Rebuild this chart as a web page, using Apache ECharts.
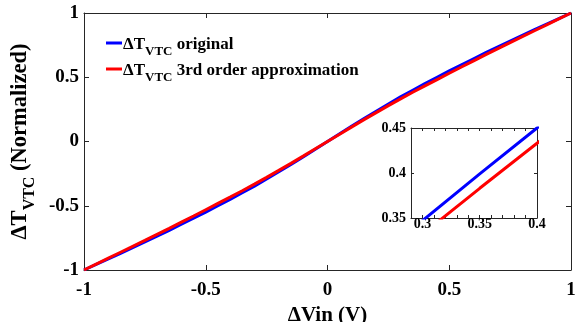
<!DOCTYPE html>
<html><head><meta charset="utf-8">
<script src="https://cdn.jsdelivr.net/npm/echarts@6/dist/echarts.min.js"></script>
<style>html,body{margin:0;padding:0;background:#fff}#c{width:575px;height:322px}</style>
</head><body><div id="c"></div>
<script>
// ---- data ----
const xVals = [-1,-0.95,-0.9,-0.85,-0.8,-0.75,-0.7,-0.65,-0.6,-0.55,-0.5,-0.45,-0.4,-0.35,-0.3,-0.25,-0.2,-0.15,-0.1,-0.05,0,
  0.05,0.1,0.15,0.2,0.25,0.3,0.35,0.4,0.45,0.5,0.55,0.6,0.65,0.7,0.75,0.8,0.85,0.9,0.95,1];
const blueOriginal = [-1,-0.957,-0.914,-0.87,-0.826,-0.782,-0.737,-0.691,-0.644,-0.597,-0.5495,-0.5,-0.45,-0.399,-0.347,-0.292,-0.236,-0.178,-0.12,-0.06,0,
  0.06,0.12,0.178,0.236,0.292,0.347,0.399,0.45,0.5,0.5495,0.597,0.644,0.691,0.737,0.782,0.826,0.87,0.914,0.957,1];
const redApprox = [-1,-0.954,-0.908,-0.862,-0.816,-0.77,-0.723,-0.676,-0.628,-0.58,-0.531,-0.482,-0.433,-0.383,-0.332,-0.279,-0.225,-0.17,-0.114,-0.057,0,
  0.057,0.114,0.17,0.225,0.279,0.332,0.383,0.433,0.482,0.531,0.58,0.628,0.676,0.723,0.77,0.816,0.862,0.908,0.954,1];
const mainTicks = [-1,-0.5,0,0.5,1];
const insetXTicks = [0.3,0.35,0.4];
const insetXMinor = [0.29,0.3,0.31,0.32,0.33,0.34,0.35,0.36,0.37,0.38,0.39,0.4];
const insetYTicks = [0.35,0.4,0.45];
const legendNames = ['original','3rd order approximation'];

const FONT = 'Liberation Serif';
const AX = '#262626';
const pairs = (ys) => xVals.map((x,i)=>[x,ys[i]]);
const fmt = v => String(v);

function mainAxis(pos, showLabel, extra){
  return Object.assign({
    type:'value', position:pos, gridIndex:0, min:-1, max:1, interval:0.5,
    axisLine:{show:true,onZero:false,lineStyle:{color:AX,width:1}},
    axisTick:{show:true,inside:true,length:5,customValues:mainTicks,lineStyle:{color:AX}},
    axisLabel:{show:showLabel,customValues:mainTicks,margin:5,color:'#000',fontFamily:FONT,fontWeight:'bold',fontSize:19,formatter:fmt},
    splitLine:{show:false}
  }, extra||{});
}
function insetAxis(pos, min, max, ticks, minor, showLabel, margin){
  return {
    type:'value', position:pos, gridIndex:1, min:min, max:max,
    axisLine:{show:true,onZero:false,lineStyle:{color:AX,width:1}},
    axisTick:{show:true,inside:true,length:3,customValues:minor,lineStyle:{color:AX}},
    axisLabel:{show:showLabel,customValues:ticks,margin:margin,color:'#000',fontFamily:FONT,fontWeight:'bold',fontSize:14,formatter:fmt},
    splitLine:{show:false}
  };
}

const rich = {
  d:{fontFamily:FONT,fontWeight:'bold',fontSize:17,color:'#000',verticalAlign:'bottom',lineHeight:20},
  s:{fontFamily:FONT,fontWeight:'bold',fontSize:13,color:'#000',verticalAlign:'bottom',lineHeight:14,padding:[0,0,-5,0]}
};
const yRich = {
  d:{fontFamily:FONT,fontWeight:'bold',fontSize:22.5,color:'#000',verticalAlign:'bottom',lineHeight:24},
  s:{fontFamily:FONT,fontWeight:'bold',fontSize:16,color:'#000',verticalAlign:'bottom',lineHeight:17,padding:[0,0,-6,0]}
};

const chart = echarts.init(document.getElementById('c'),null,{renderer:'canvas'});
chart.setOption({
  animation:false,
  backgroundColor:'#fff',
  grid:[
    {left:84,right:4,top:13,bottom:52,outerBoundsMode:'none',containLabel:false},
    {left:411,top:128,width:126,height:90,outerBoundsMode:'none',containLabel:false}
  ],
  legend:{
    left:101, top:31, orient:'vertical', itemGap:4,
    itemWidth:16, itemHeight:3, icon:'rect',
    data:legendNames,
    formatter: n => '{d|ΔT}{s|VTC}{d| ' + n + '}',
    textStyle:{rich:rich, padding:[0,0,0,-4]}
  },
  xAxis:[
    mainAxis('bottom',true,{name:'ΔVin (V)',nameLocation:'middle',nameGap:33,
      nameTextStyle:{fontFamily:FONT,fontWeight:'bold',fontSize:21,color:'#000'},
      axisLabel:{show:true,customValues:mainTicks,margin:11,color:'#000',fontFamily:FONT,fontWeight:'bold',fontSize:19,formatter:fmt}}),
    mainAxis('top',false),
    insetAxis('bottom',0.29,0.4,insetXTicks,insetXMinor,true,-1),
    insetAxis('top',0.29,0.4,insetXTicks,insetXMinor,false,8)
  ],
  yAxis:[
    mainAxis('left',true,{name:'{d|ΔT}{s|VTC}{d| (Normalized)}',nameLocation:'middle',nameGap:38,
      nameTextStyle:{rich:yRich}}),
    mainAxis('right',false),
    insetAxis('left',0.35,0.45,insetYTicks,insetYTicks,true,5),
    insetAxis('right',0.35,0.45,insetYTicks,insetYTicks,false,8)
  ],
  series:[
    {name:legendNames[0],type:'line',xAxisIndex:0,yAxisIndex:0,data:pairs(blueOriginal),showSymbol:false,
      lineStyle:{color:'#0000ff',width:3},itemStyle:{color:'#0000ff'}},
    {name:legendNames[1],type:'line',xAxisIndex:0,yAxisIndex:0,data:pairs(redApprox),showSymbol:false,
      lineStyle:{color:'#ff0000',width:3},itemStyle:{color:'#ff0000'}},
    {name:legendNames[0],type:'line',xAxisIndex:2,yAxisIndex:2,data:pairs(blueOriginal),showSymbol:false,clip:true,
      lineStyle:{color:'#0000ff',width:3}},
    {name:legendNames[1],type:'line',xAxisIndex:2,yAxisIndex:2,data:pairs(redApprox),showSymbol:false,clip:true,
      lineStyle:{color:'#ff0000',width:3}}
  ]
});
</script></body></html>
